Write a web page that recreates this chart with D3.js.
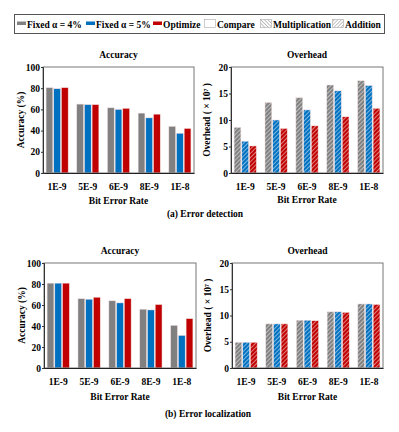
<!DOCTYPE html>
<html>
<head>
<meta charset="utf-8">
<script src="https://cdn.jsdelivr.net/npm/d3@7"></script>
<style>
body{margin:0;background:#fff;}
svg text{font-family:'Liberation Serif','Times New Roman',Times,serif !important;font-weight:bold;fill:#000;}
</style>
</head>
<body>
<script>
const categories=['1E-9','5E-9','6E-9','8E-9','1E-8'];
const seriesNames=['Fixed α = 4%','Fixed α = 5%','Optimize'];
const colors=['#808080','#0070c0','#c00000'];

const accDetect=[[80.5,65,61.5,56.5,44],[79.5,64.5,60,52,37.5],[80.5,64.5,61,55.5,42]];
const ovhDetect=[[8.6,13.3,14.2,16.6,17.4],[6.0,10.0,11.9,15.5,16.5],[5.1,8.4,8.9,10.6,12.2]];
const accLocal=[[80.8,66,64,56,40.6],[80.8,65.5,62,55.3,31],[80.8,67.4,66,60.4,47]];
const ovhLocal=[[4.9,8.4,9.1,10.7,12.2],[4.9,8.4,9.1,10.7,12.2],[4.9,8.4,9.0,10.6,12.1]];

const accTicks=[0,20,40,60,80,100];
const ovhTicks=[0,5,10,15,20];

const FONT="'Liberation Serif','Times New Roman',Times,serif";
let svg=d3.select('body').append('svg').attr('width',399).attr('height',432)
    .attr('font-family',FONT);
let defs=svg.append('defs');
colors.forEach((c,i)=>{
    let p=defs.append('pattern').attr('id','hatch'+i)
        .attr('patternUnits','userSpaceOnUse').attr('width',3).attr('height',3)
        .attr('patternTransform','rotate(45)');
    p.append('rect').attr('width',3).attr('height',3).attr('fill',c);
    p.append('line').attr('x1',0).attr('y1',0).attr('x2',0).attr('y2',3)
        .attr('stroke','#fff').attr('stroke-width',1.3).attr('stroke-opacity',0.75);
});
[['legMul',-45],['legAdd',45]].forEach(([id,a])=>{
    let p=defs.append('pattern').attr('id',id)
        .attr('patternUnits','userSpaceOnUse').attr('width',2.5).attr('height',2.5)
        .attr('patternTransform','rotate('+a+')');
    p.append('rect').attr('width',2.5).attr('height',2.5).attr('fill','#fff');
    p.append('line').attr('x1',0).attr('y1',0).attr('x2',0).attr('y2',2.5)
        .attr('stroke','#777').attr('stroke-width',0.9);
});

// legend
let leg=svg.append('g');
leg.append('rect').attr('x',14.5).attr('y',14.5).attr('width',370).attr('height',19)
    .attr('fill','#fff').attr('stroke','#555').attr('stroke-width',1);
let legItems=[
    {x:17,kind:'solid',c:0,label:seriesNames[0]},
    {x:86,kind:'solid',c:1,label:seriesNames[1]},
    {x:153,kind:'solid',c:2,label:seriesNames[2]},
    {x:204,kind:'box',fill:'#fff',label:'Compare'},
    {x:260,kind:'box',fill:'url(#legMul)',label:'Multiplication'},
    {x:332,kind:'box',fill:'url(#legAdd)',label:'Addition'}
];
legItems.forEach(d=>{
    if(d.kind=='solid'){
        leg.append('rect').attr('x',d.x).attr('y',21.5).attr('width',9).attr('height',3.5).attr('fill',colors[d.c]);
        leg.append('text').attr('x',d.x+10).attr('y',27.5).attr('font-size',9.5).text(d.label);
    } else {
        leg.append('rect').attr('x',d.x+0.5).attr('y',19.5).attr('width',11).attr('height',8)
            .attr('fill',d.fill).attr('stroke','#aaa').attr('stroke-width',0.6);
        leg.append('text').attr('x',d.x+13).attr('y',27.5).attr('font-size',9.5).text(d.label);
    }
});

function drawPanel(o){
    let g=svg.append('g');
    let x=d3.scaleBand().domain(categories).range([o.x0,o.x1]).paddingInner(0.28).paddingOuter(0.1);
    let xs=d3.scaleBand().domain([0,1,2]).range([0,x.bandwidth()]).paddingInner(0.12);
    let y=d3.scaleLinear().domain([0,o.max]).range([o.y1,o.y0]);

    g.append('text').attr('x',(o.x0+o.x1)/2).attr('y',o.y0-9).attr('text-anchor','middle')
        .attr('font-size',9.5).text(o.title);

    let vals=[];
    o.data.forEach((s,si)=>s.forEach((v,ci)=>vals.push({si:si,ci:ci,v:v})));
    g.selectAll('rect.bar').data(vals).enter().append('rect').attr('class','bar')
        .attr('x',d=>x(categories[d.ci])+xs(d.si))
        .attr('y',d=>y(d.v))
        .attr('width',xs.bandwidth())
        .attr('height',d=>y(0)-y(d.v))
        .attr('fill',d=>o.hatch?'url(#hatch'+d.si+')':colors[d.si])
        .attr('stroke','#f2dede').attr('stroke-width',0.5);

    g.append('rect').attr('x',o.x0).attr('y',o.y0).attr('width',o.x1-o.x0).attr('height',o.y1-o.y0)
        .attr('fill','none').attr('stroke','#777').attr('stroke-width',1);

    let ya=g.append('g').attr('transform','translate('+o.x0+',0)')
        .call(d3.axisLeft(y).tickValues(o.ticks).tickSize(2).tickPadding(1));
    ya.attr('font-family',FONT);
    ya.select('.domain').attr('stroke','#333');
    ya.selectAll('.tick line').attr('stroke','#333');
    ya.selectAll('text').attr('font-size',9.5);

    let xa=g.append('g').attr('transform','translate(0,'+o.y1+')')
        .call(d3.axisBottom(x).tickSize(0).tickPadding(10));
    xa.attr('font-family',FONT);
    xa.select('.domain').attr('stroke','#222').attr('stroke-width',1.2);
    xa.selectAll('text').attr('font-size',9.5);

    g.append('text').attr('x',(o.x0+o.x1)/2).attr('y',o.labY).attr('text-anchor','middle')
        .attr('font-size',9.5).text('Bit Error Rate');
    g.append('text').attr('transform','translate('+o.ylx+','+((o.y0+o.y1)/2)+') rotate(-90)')
        .attr('text-anchor','middle').attr('font-size',9.5).text(o.ylabel);
}

drawPanel({x0:43,x1:194,y0:67,y1:173,max:100,ticks:accTicks,data:accDetect,hatch:false,
    title:'Accuracy',ylabel:'Accuracy (%)',ylx:24,labY:204});
drawPanel({x0:231,x1:383,y0:67,y1:173,max:20,ticks:ovhTicks,data:ovhDetect,hatch:true,
    title:'Overhead',ylabel:'Overhead ( × 10⁷ )',ylx:210,labY:203});
drawPanel({x0:44,x1:196,y0:263,y1:368,max:100,ticks:accTicks,data:accLocal,hatch:false,
    title:'Accuracy',ylabel:'Accuracy (%)',ylx:25,labY:400});
drawPanel({x0:232,x1:383,y0:263,y1:368,max:20,ticks:ovhTicks,data:ovhLocal,hatch:true,
    title:'Overhead',ylabel:'Overhead ( × 10⁷ )',ylx:211,labY:400});

svg.append('text').attr('x',205).attr('y',217).attr('text-anchor','middle').attr('font-size',9.5).text('(a) Error detection');
svg.append('text').attr('x',208).attr('y',417).attr('text-anchor','middle').attr('font-size',9.5).text('(b) Error localization');
</script>
</body>
</html>
